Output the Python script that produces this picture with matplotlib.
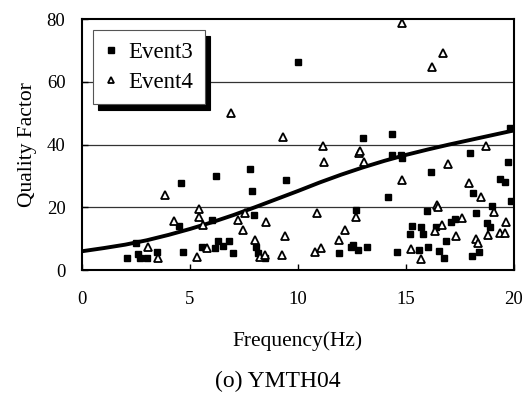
import matplotlib
matplotlib.use("Agg")
import matplotlib.pyplot as plt


# Event3 (filled squares)
event3_freq = [2.07, 2.5, 2.6, 2.68, 3.0, 3.45, 4.5, 4.58, 4.68, 5.54,
               6.0, 6.16, 6.2, 6.31, 6.54, 6.8, 7.0, 7.8, 7.88, 7.96,
               8.05, 8.16, 8.47, 9.44, 10.0, 11.9, 12.45, 12.55, 12.68, 12.78,
               13.02, 13.18, 14.15, 14.34, 14.34, 14.57, 14.77, 14.83, 15.19, 15.26,
               15.62, 15.69, 15.8, 15.96, 16.03, 16.14, 16.37, 16.54, 16.76, 16.84,
               17.08, 17.27, 17.96, 18.04, 18.12, 18.23, 18.38, 18.74, 18.89, 19.0,
               19.35, 19.58, 19.71, 19.81, 19.86]
event3_q = [3.7, 8.6, 5.0, 4.0, 4.0, 5.9, 14.2, 27.7, 5.8, 7.4,
            16.0, 6.9, 30.0, 9.3, 7.8, 9.3, 5.3, 32.1, 25.3, 17.6,
            7.4, 5.3, 3.7, 28.7, 66.3, 5.3, 7.4, 8.0, 19.1, 6.4,
            42.2, 7.4, 23.2, 36.7, 43.3, 5.9, 36.7, 35.6, 11.4, 14.0,
            6.4, 13.6, 11.4, 18.8, 7.4, 31.1, 13.6, 6.1, 3.7, 9.3,
            15.4, 16.3, 37.2, 4.5, 24.7, 18.3, 5.9, 14.9, 13.6, 20.4,
            28.9, 28.2, 34.3, 45.2, 22.1]

# Event4 (open triangles)
event4_freq = [3.07, 3.53, 3.86, 4.26, 5.31, 5.43, 5.43, 5.6, 5.77, 6.9,
               7.24, 7.55, 7.47, 8.0, 8.24, 8.47, 8.52, 9.24, 9.3, 9.4,
               10.8, 10.9, 11.06, 11.17, 11.2, 11.92, 12.18, 12.7, 12.84, 12.87,
               13.06, 14.8, 14.8, 15.23, 15.69, 16.19, 16.34, 16.45, 16.5, 16.65,
               16.73, 16.96, 17.3, 17.58, 17.93, 18.24, 18.32, 18.47, 18.69, 18.81,
               19.09, 19.35, 19.58, 19.63]
event4_q = [7.2, 3.7, 23.8, 15.6, 4.2, 19.4, 17.0, 14.3, 7.0, 50.1,
            16.0, 18.2, 12.8, 9.6, 4.3, 4.8, 15.4, 4.8, 42.5, 11.0,
            5.9, 18.3, 6.9, 39.6, 34.3, 9.6, 12.8, 17.0, 37.2, 37.8,
            34.3, 28.7, 78.7, 6.6, 3.4, 64.7, 12.6, 20.7, 20.0, 14.4,
            69.1, 33.8, 11.0, 16.5, 27.9, 9.8, 8.7, 23.4, 39.6, 11.2,
            18.6, 11.7, 11.7, 15.4]

# fitted curve, every 1 Hz
fit_freq = [0, 1, 2, 3, 4, 5, 6, 7, 8, 9, 10,
            11, 12, 13, 14, 15, 16, 17, 18, 19, 20]
fit_q = [6.0, 7.0, 8.1, 9.5, 11.2, 13.1, 15.2, 17.5, 20.0, 22.6, 25.2,
         27.9, 30.4, 32.7, 34.8, 36.7, 38.4, 40.0, 41.5, 43.0, 44.5]

x_ticks = [0, 5, 10, 15, 20]
y_ticks = [0, 20, 40, 60, 80]


plt.rcParams["font.family"] = ["Liberation Serif", "DejaVu Serif"]

fig = plt.figure(figsize=(5.26, 3.96), dpi=100)
ax = fig.add_axes([0.156, 0.318, 0.821, 0.634])

for y in [20, 40, 60]:
    ax.axhline(y, color="#333333", linewidth=0.9, zorder=1)

ax.plot(fit_freq, fit_q, color="black", linewidth=2.8, zorder=2)
ax.plot(event3_freq, event3_q, linestyle="none", marker="s", markersize=4.8,
        color="black", label="Event3", zorder=3)
ax.plot(event4_freq, event4_q, linestyle="none", marker="^", markersize=5.2,
        markerfacecolor="white", markeredgecolor="black", markeredgewidth=1.3,
        label="Event4", zorder=3)

ax.set_xlim(0, 20)
ax.set_ylim(0, 80)
ax.set_xticks(x_ticks)
ax.set_yticks(y_ticks)
ax.tick_params(axis="x", direction="in", length=4, width=1, pad=15, labelsize=13.5)
ax.tick_params(axis="y", direction="in", length=4, width=1, pad=12, labelsize=13.5)
for spine in ax.spines.values():
    spine.set_linewidth(1.5)

ax.set_xlabel("Frequency(Hz)", fontsize=15.5, labelpad=17)
ax.set_ylabel("Quality Factor", fontsize=15.5, labelpad=7)

leg = ax.legend(loc="upper left", bbox_to_anchor=(0.025, 0.955), fontsize=16.5,
                frameon=True, fancybox=False, edgecolor="#555555",
                shadow={"ox": 4, "oy": -4, "color": "black", "alpha": 1},
                handlelength=0.6, handletextpad=0.45, borderpad=0.5,
                labelspacing=0.4, markerscale=0.8, borderaxespad=0)
leg.get_frame().set_linewidth(0.8)

fig.text(0.528, 1 - 381 / 396, "(o) YMTH04", ha="center", va="center", fontsize=17)

fig.savefig("out.png", dpi=100)
